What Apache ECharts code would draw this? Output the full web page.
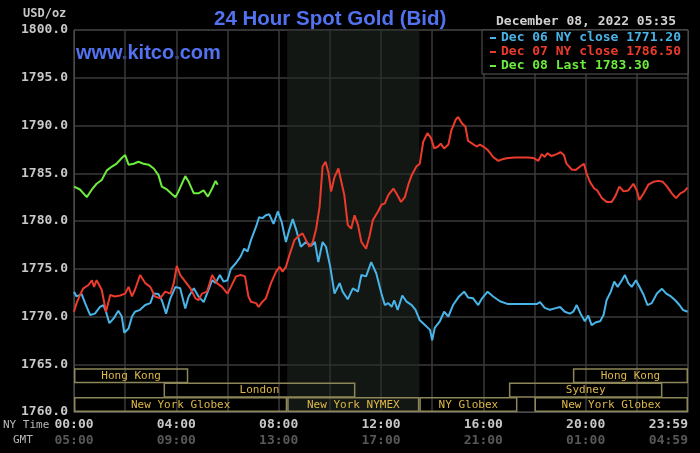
<!DOCTYPE html>
<html>
<head>
<meta charset="utf-8">
<script src="https://cdn.jsdelivr.net/npm/echarts@6/dist/echarts.min.js"></script>
<style>
  html, body { margin: 0; padding: 0; background: #000; }
  #chart { width: 700px; height: 453px; }
</style>
</head>
<body>
<div id="chart"></div>
<script>
'use strict'

// minutes after NY midnight and bid prices
var dec06Minutes = [0, 6, 18, 26, 38, 49, 61, 69, 75, 83, 93, 104, 112, 118, 128, 136, 143, 155, 167, 179, 187, 198, 206, 216, 226, 238, 249, 261, 269, 281, 292, 304, 312, 324, 332, 342, 351, 360, 368, 380, 391, 399, 407, 415, 427, 434, 442, 450, 458, 468, 478, 487, 497, 505, 513, 521, 532, 544, 556, 565, 573, 583, 591, 601, 611, 623, 630, 642, 654, 666, 674, 685, 697, 709, 721, 729, 737, 745, 751, 759, 770, 780, 792, 801, 811, 823, 835, 840, 846, 858, 868, 878, 889, 903, 915, 924, 936, 948, 957, 970, 983, 999, 1018, 1042, 1065, 1085, 1093, 1104, 1116, 1128, 1140, 1151, 1163, 1171, 1179, 1188, 1198, 1206, 1214, 1224, 1234, 1242, 1249, 1259, 1267, 1275, 1285, 1292, 1300, 1308, 1318, 1328, 1336, 1345, 1355, 1367, 1379, 1389, 1400, 1410, 1420, 1428, 1439];
var dec06Prices = [1772.6, 1772.1, 1772.35, 1771.4, 1770.15, 1770.3, 1771.0, 1771.2, 1770.5, 1769.3, 1769.8, 1770.6, 1770.0, 1768.3, 1768.75, 1770.0, 1770.5, 1770.7, 1771.2, 1771.4, 1772.4, 1772.35, 1771.7, 1770.3, 1771.9, 1773.1, 1772.95, 1770.85, 1772.1, 1772.95, 1772.1, 1771.5, 1772.4, 1773.8, 1773.5, 1774.35, 1773.65, 1773.8, 1775.0, 1775.6, 1776.3, 1777.1, 1776.8, 1778.0, 1779.4, 1780.4, 1780.3, 1780.6, 1780.7, 1779.7, 1781.0, 1779.9, 1777.8, 1779.1, 1780.2, 1779.1, 1777.3, 1777.8, 1777.4, 1777.8, 1775.7, 1777.8, 1777.3, 1775.2, 1772.4, 1773.5, 1772.6, 1771.8, 1772.95, 1772.6, 1774.35, 1774.2, 1775.7, 1774.5, 1772.4, 1771.2, 1771.4, 1771.0, 1771.7, 1770.7, 1772.2, 1771.55, 1771.2, 1770.7, 1769.6, 1769.1, 1768.6, 1767.5, 1768.8, 1769.5, 1770.5, 1770.0, 1771.2, 1772.1, 1772.6, 1772.0, 1771.9, 1771.2, 1771.9, 1772.6, 1772.1, 1771.6, 1771.3, 1771.3, 1771.3, 1771.3, 1771.5, 1770.9, 1770.7, 1770.85, 1771.0, 1770.5, 1770.3, 1770.5, 1771.2, 1770.3, 1769.5, 1770.1, 1769.1, 1769.4, 1769.5, 1770.15, 1771.7, 1772.6, 1773.65, 1773.1, 1773.8, 1774.35, 1773.5, 1773.1, 1773.8, 1772.95, 1772.25, 1771.2, 1771.4, 1772.4, 1772.9, 1772.4, 1772.1, 1771.7, 1771.2, 1770.7, 1770.5];

var dec07Minutes = [0, 6, 14, 22, 34, 42, 47, 53, 65, 75, 85, 96, 108, 120, 128, 136, 143, 155, 167, 179, 190, 202, 214, 226, 234, 241, 249, 261, 273, 285, 292, 300, 312, 324, 335, 347, 360, 368, 380, 391, 401, 409, 415, 427, 433, 442, 450, 462, 474, 482, 489, 497, 505, 517, 529, 536, 544, 552, 560, 568, 576, 583, 590, 597, 603, 611, 620, 628, 634, 642, 650, 658, 666, 674, 685, 693, 701, 713, 721, 729, 737, 749, 756, 767, 776, 784, 792, 803, 811, 819, 829, 837, 845, 854, 860, 868, 878, 885, 895, 901, 910, 918, 924, 934, 944, 952, 960, 971, 983, 995, 1007, 1018, 1034, 1050, 1065, 1077, 1089, 1097, 1104, 1110, 1120, 1132, 1141, 1149, 1155, 1167, 1177, 1187, 1196, 1202, 1210, 1220, 1227, 1238, 1249, 1261, 1269, 1279, 1289, 1300, 1312, 1320, 1326, 1336, 1347, 1359, 1371, 1381, 1391, 1402, 1412, 1422, 1431, 1439];
var dec07Prices = [1770.5, 1771.4, 1772.25, 1772.95, 1773.3, 1773.8, 1773.1, 1773.8, 1772.8, 1770.5, 1772.25, 1772.1, 1772.2, 1772.4, 1773.1, 1772.1, 1772.8, 1774.35, 1773.5, 1773.1, 1772.1, 1771.9, 1772.6, 1772.4, 1773.5, 1775.3, 1774.35, 1773.65, 1772.95, 1771.9, 1771.7, 1772.4, 1772.6, 1774.35, 1773.5, 1773.1, 1772.4, 1773.1, 1774.2, 1774.35, 1774.2, 1772.1, 1771.55, 1771.4, 1771.0, 1771.55, 1771.9, 1773.5, 1774.7, 1775.2, 1774.7, 1775.2, 1776.4, 1778.0, 1778.5, 1778.7, 1778.0, 1777.3, 1777.8, 1779.2, 1781.5, 1785.7, 1786.2, 1785.0, 1783.1, 1784.6, 1785.5, 1783.9, 1782.7, 1779.6, 1779.2, 1780.6, 1779.6, 1777.8, 1777.1, 1778.4, 1780.1, 1781.0, 1781.7, 1781.85, 1782.7, 1783.4, 1782.9, 1782.0, 1782.5, 1783.8, 1784.8, 1785.7, 1786.0, 1788.3, 1789.2, 1788.7, 1787.6, 1787.8, 1788.1, 1787.6, 1788.0, 1789.5, 1790.6, 1790.9, 1790.2, 1789.9, 1788.4, 1788.1, 1787.8, 1788.0, 1787.8, 1787.4, 1786.7, 1786.3, 1786.5, 1786.6, 1786.65, 1786.65, 1786.65, 1786.6, 1786.3, 1787.0, 1786.7, 1787.1, 1786.8, 1787.0, 1787.2, 1786.9, 1786.0, 1785.4, 1785.35, 1785.7, 1786.0, 1785.0, 1784.1, 1783.4, 1783.2, 1782.4, 1782.0, 1782.0, 1782.55, 1783.6, 1783.1, 1783.2, 1783.9, 1783.2, 1782.2, 1782.9, 1783.8, 1784.1, 1784.2, 1784.1, 1783.6, 1782.9, 1782.4, 1782.9, 1783.1, 1783.5];

var dec08Minutes = [0, 14, 30, 42, 53, 65, 77, 89, 100, 112, 120, 128, 140, 151, 163, 175, 187, 198, 206, 218, 230, 238, 245, 253, 261, 269, 281, 292, 304, 314, 324, 332, 337];
var dec08Prices = [1783.6, 1783.3, 1782.5, 1783.3, 1783.9, 1784.3, 1785.3, 1785.7, 1786.0, 1786.6, 1786.9, 1785.9, 1786.0, 1786.2, 1786.0, 1785.9, 1785.5, 1784.8, 1783.6, 1783.3, 1782.8, 1782.5, 1783.1, 1783.9, 1784.7, 1784.1, 1782.9, 1782.9, 1783.2, 1782.55, 1783.4, 1784.2, 1783.8];

var seriesNames = ['Dec 06 NY close 1771.20', 'Dec 07 NY close 1786.50', 'Dec 08 Last 1783.30'];
var seriesColors = ['#48b4e8', '#ec3b2c', '#6cec3c'];

// market sessions: name, start minute, end minute, row (0 = bottom)
var sessionNames = ['New York Globex', 'New York NYMEX', 'NY Globex', 'New York Globex', 'London', 'Sydney', 'Hong Kong', 'Hong Kong'];
var sessionStart = [0, 500, 810, 1080, 210, 1020, 0, 1170];
var sessionEnd = [500, 810, 1040, 1440, 660, 1380, 268, 1440];
var sessionRow = [0, 0, 0, 0, 1, 1, 2, 2];

var nymexFloor = [500, 810];

var yTicks = { min: 1760, max: 1800, step: 5 };

function pairs(xs, ys) {
    return xs.map(function (x, i) { return [x, ys[i]]; });
}

function hhmm(m) {
    var h = Math.floor(m / 60) % 24, mm = m % 60;
    return (h < 10 ? '0' : '') + h + ':' + (mm < 10 ? '0' : '') + mm;
}

var mono = 'DejaVu Sans Mono';
var chart = echarts.init(document.getElementById('chart'));

chart.setOption({
    animation: false,
    backgroundColor: '#000',
    title: {
        text: '24 Hour Spot Gold (Bid)',
        left: 209,
        top: 4,
        textStyle: { color: '#5272f0', fontFamily: 'Liberation Sans', fontSize: 20.5, fontWeight: 'bold' }
    },
    graphic: [
        { type: 'text', left: 76, top: 43, style: { text: 'www.kitco.com', fill: '#5272f0', font: 'bold 20px "Liberation Sans"' } },
        { type: 'text', right: 24, top: 15, style: { text: 'December 08, 2022 05:35', fill: '#d0d0d0', font: 'bold 13px "DejaVu Sans Mono"' } },
        { type: 'text', left: 23, top: 8, style: { text: 'USD/oz', fill: '#c8c8c8', font: 'bold 12px "DejaVu Sans Mono"' } },
        { type: 'text', left: 3, top: 420, style: { text: 'NY Time', fill: '#b8b8b8', font: '11px "DejaVu Sans Mono"' } },
        { type: 'text', left: 13, top: 435, style: { text: 'GMT', fill: '#b8b8b8', font: '11px "DejaVu Sans Mono"' } }
    ],
    legend: {
        orient: 'vertical',
        right: 12,
        top: 30,
        padding: [1, 7, 1, 8],
        itemGap: 0,
        itemWidth: 6,
        itemHeight: 2,
        icon: 'rect',
        backgroundColor: '#000',
        borderColor: '#5a5a5a',
        borderWidth: 1,
        selectedMode: false,
        textStyle: { fontFamily: mono, fontWeight: 'bold', fontSize: 13, lineHeight: 14 },
        data: seriesNames.map(function (n, i) {
            return { name: n, itemStyle: { color: seriesColors[i] }, textStyle: { color: seriesColors[i] } };
        })
    },
    grid: {
        left: 74,
        right: 12,
        top: 30,
        bottom: 41,
        show: true,
        borderColor: '#4a4a4a',
        backgroundColor: 'transparent'
    },
    xAxis: {
        type: 'value',
        min: 0,
        max: 1440,
        interval: 120,
        axisLine: { lineStyle: { color: '#4a4a4a' } },
        axisTick: { show: false },
        splitLine: { lineStyle: { color: '#3a3a3a', width: 1.5 } },
        axisLabel: {
            margin: 5,
            alignMaxLabel: 'right',
            formatter: function (v) {
                if (v % 240 !== 0) return '';
                var ny = v === 1440 ? '23:59' : hhmm(v);
                var gmt = v === 1440 ? '04:59' : hhmm(v + 300);
                return '{ny|' + ny + '}\n{gmt|' + gmt + '}';
            },
            rich: {
                ny: { color: '#c8c8c8', fontFamily: mono, fontWeight: 'bold', fontSize: 13, lineHeight: 16 },
                gmt: { color: '#585858', fontFamily: mono, fontWeight: 'bold', fontSize: 13, lineHeight: 16 }
            }
        }
    },
    yAxis: {
        type: 'value',
        min: yTicks.min,
        max: yTicks.max,
        interval: yTicks.step,
        axisLine: { show: true, lineStyle: { color: '#4a4a4a' } },
        axisTick: { show: false },
        splitLine: { lineStyle: { color: '#3a3a3a', width: 1.5 } },
        axisLabel: {
            margin: 6,
            color: '#c8c8c8',
            fontFamily: mono,
            fontWeight: 'bold',
            fontSize: 13,
            formatter: function (v) { return v.toFixed(1); }
        }
    },
    series: [
        {
            name: seriesNames[0],
            type: 'line',
            showSymbol: false,
            data: pairs(dec06Minutes, dec06Prices),
            lineStyle: { color: seriesColors[0], width: 2 },
            itemStyle: { color: seriesColors[0] },
            markArea: {
                silent: true,
                itemStyle: { color: 'rgba(34, 42, 34, 0.55)' },
                data: [[{ xAxis: nymexFloor[0] }, { xAxis: nymexFloor[1] }]]
            }
        },
        {
            name: seriesNames[1],
            type: 'line',
            showSymbol: false,
            data: pairs(dec07Minutes, dec07Prices),
            lineStyle: { color: seriesColors[1], width: 2 },
            itemStyle: { color: seriesColors[1] }
        },
        {
            name: seriesNames[2],
            type: 'line',
            showSymbol: false,
            data: pairs(dec08Minutes, dec08Prices),
            lineStyle: { color: seriesColors[2], width: 2 },
            itemStyle: { color: seriesColors[2] }
        },
        {
            type: 'custom',
            silent: true,
            data: sessionNames.map(function (n, i) { return [sessionStart[i], sessionEnd[i], sessionRow[i]]; }),
            renderItem: function (params, api) {
                var row = api.value(2);
                var lowVal = yTicks.min + row * 1.5;
                var p0 = api.coord([api.value(0), lowVal + 1.5]);
                var p1 = api.coord([api.value(1), lowVal]);
                return {
                    type: 'group',
                    children: [{
                        type: 'rect',
                        shape: { x: p0[0] + 0.75, y: p0[1], width: p1[0] - p0[0] - 1.5, height: p1[1] - p0[1] - 0.75 },
                        style: { fill: 'none', stroke: '#8c8658', lineWidth: 1.5 }
                    }, {
                        type: 'text',
                        style: {
                            text: sessionNames[params.dataIndex],
                            x: (p0[0] + p1[0]) / 2,
                            y: (p0[1] + p1[1]) / 2,
                            align: 'center',
                            verticalAlign: 'middle',
                            fill: '#dcb848',
                            font: '11px "DejaVu Sans Mono"'
                        }
                    }]
                };
            }
        }
    ]
});
</script>
</body>
</html>
